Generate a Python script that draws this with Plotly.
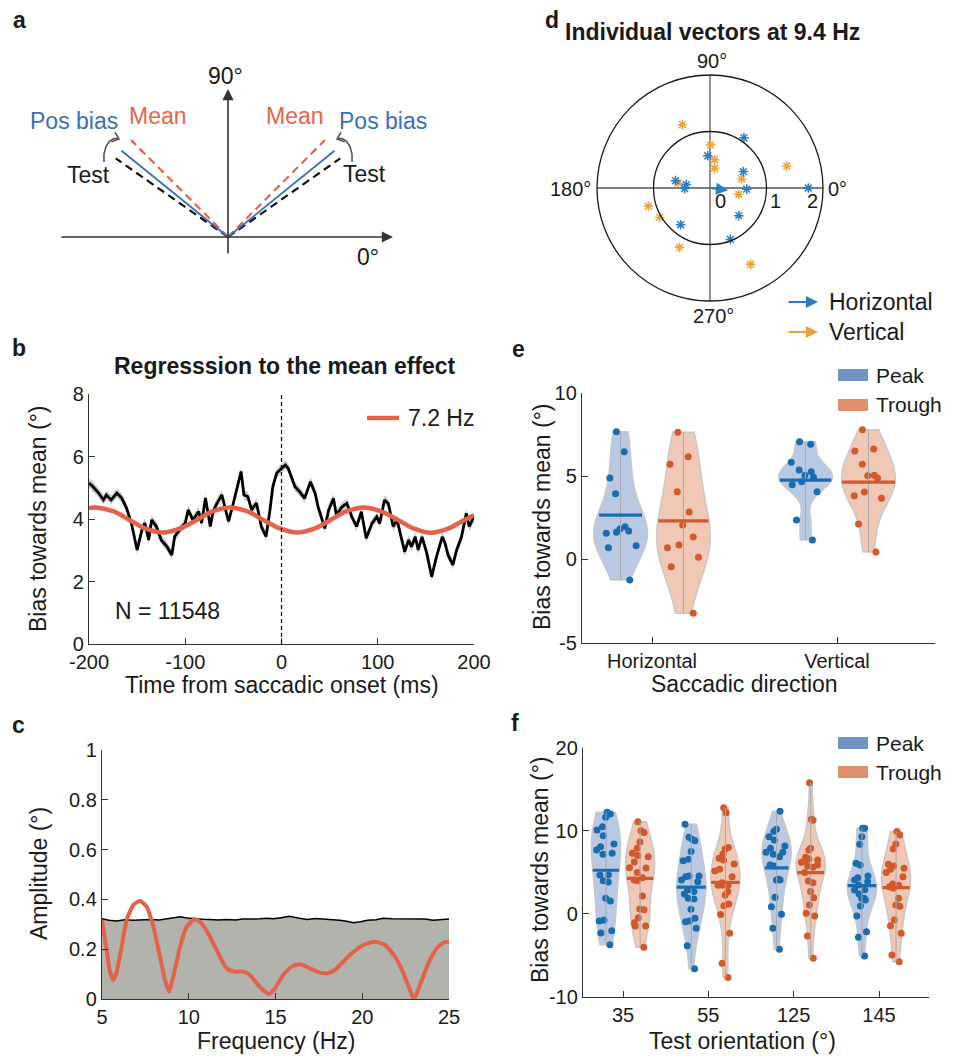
import numpy as np
import plotly.graph_objects as go

# The page body has an 8 px default margin: the figure is sized so that it
# fills the 955 x 1056 window after that offset.
PAGE_W, PAGE_H, BODY = 955, 1056, 8
W, H = PAGE_W - BODY, PAGE_H - BODY
FONT = "Liberation Sans, Arial, sans-serif"
AX = "#333333"
TXT = "#1a1a1a"

# ---------------- data ----------------
# panel a: schematic orientations (deg)
a_test_angles = [35, 145]
a_bias_angles = [39, 141]
a_mean_angles = [45, 135]

# panel b: bias towards mean over time
b_time = [-200, -196, -190, -185, -182, -177, -171, -166, -161, -156, -150, -145, -142, -138,
          -135, -130, -125, -119, -114, -111, -106, -100, -97, -92, -86, -83, -79, -74, -71,
          -67, -62, -59, -55, -50, -46, -42, -39, -35, -31, -26, -21, -16, -12, -9, -5, 0,
          4, 7, 11, 14, 19, 24, 30, 35, 38, 42, 45, 49, 54, 57, 63, 68, 73, 78, 83, 88, 94,
          99, 102, 107, 111, 116, 120, 125, 128, 132, 135, 139, 142, 146, 151, 156, 161, 167,
          170, 173, 178, 182, 187, 192, 195, 200]
b_bias = [5.15, 5.04, 4.83, 4.61, 4.77, 4.61, 4.83, 4.67, 4.35, 3.87, 3.01, 3.65, 3.87, 3.33,
          3.97, 3.76, 3.33, 3.12, 2.85, 3.44, 3.65, 3.87, 4.29, 3.97, 4.24, 3.87, 4.67, 3.76, 4.24,
          4.51, 4.77, 4.40, 3.92, 4.51, 5.04, 5.52, 4.77, 4.72, 4.29, 4.51, 3.76, 3.44, 4.29, 5.04,
          5.47, 5.60, 5.73, 5.62, 5.30, 5.03, 4.87, 4.66, 5.19, 4.82, 4.39, 3.97, 3.70, 4.29, 4.66,
          4.13, 4.39, 4.50, 4.07, 3.76, 4.23, 3.38, 3.86, 4.07, 3.86, 4.61, 4.50, 3.76, 3.97, 3.33,
          2.95, 3.33, 3.11, 3.43, 3.01, 3.43, 2.90, 2.15, 2.79, 3.43, 3.22, 2.85, 2.53, 3.01, 3.43,
          4.18, 3.76, 4.07]
b_sem = 0.15
b_fit_time = [-200, -193, -175, -158, -141, -123, -106, -88, -71, -54, -36, -19, -1, 16, 34,
              51, 68, 86, 103, 121, 138, 155, 173, 190, 200]
b_fit = [4.35, 4.37, 4.25, 3.97, 3.69, 3.57, 3.69, 3.97, 4.25, 4.37, 4.25, 3.97, 3.69, 3.57, 3.69,
         3.97, 4.25, 4.37, 4.25, 3.97, 3.69, 3.56, 3.69, 3.97, 4.12]
b_fit_label = "7.2 Hz"
b_n_label = "N = 11548"
b_xticks = [-200, -100, 0, 100, 200]

# panel c: amplitude spectrum
c_freq = [5.0, 5.27, 5.46, 5.65, 5.85, 6.13, 6.42, 6.81, 7.19, 7.57, 7.96, 8.34, 8.63, 8.86, 9.11,
          9.5, 9.88, 10.36, 10.74, 11.22, 11.7, 12.18, 12.66, 13.14, 13.53, 14.01, 14.39, 14.64,
          14.97, 15.45, 15.93, 16.41, 16.98, 17.56, 18.04, 18.52, 19.29, 20.06, 20.73, 21.31,
          21.89, 22.37, 22.75, 22.98, 23.33, 23.81, 24.29, 24.67, 25.0]
c_amp = [0.317, 0.197, 0.11, 0.076, 0.11, 0.21, 0.317, 0.378, 0.394, 0.371, 0.29, 0.17, 0.076,
         0.03, 0.09, 0.21, 0.29, 0.32, 0.304, 0.25, 0.183, 0.123, 0.11, 0.11, 0.096, 0.056, 0.03,
         0.02, 0.043, 0.096, 0.13, 0.14, 0.123, 0.106, 0.104, 0.123, 0.177, 0.217, 0.23, 0.217,
         0.17, 0.104, 0.036, 0.0, 0.056, 0.143, 0.204, 0.226, 0.23]
c_null_freq = [5.0, 5.4, 5.85, 6.3, 6.8, 7.3, 7.8, 8.3, 8.7, 9.1, 9.5, 9.9, 10.3, 10.8, 11.2, 11.7,
               12.2, 12.7, 13.1, 13.6, 14.1, 14.5, 14.9, 15.4, 15.8, 16.3, 16.8, 17.3, 17.8, 18.2,
               18.7, 19.1, 19.5, 19.9, 20.3, 20.8, 21.2, 21.7, 22.2, 22.6, 23.1, 23.6, 24.1, 24.6, 25.0]
c_null = [0.322, 0.316, 0.313, 0.318, 0.316, 0.319, 0.319, 0.317, 0.322, 0.326, 0.330, 0.325, 0.322,
          0.320, 0.319, 0.317, 0.319, 0.317, 0.321, 0.320, 0.322, 0.324, 0.322, 0.327, 0.332, 0.325,
          0.319, 0.323, 0.321, 0.318, 0.316, 0.312, 0.306, 0.310, 0.316, 0.318, 0.324, 0.322, 0.322,
          0.320, 0.319, 0.321, 0.316, 0.318, 0.321]
c_yticks = [0, 0.2, 0.4, 0.6, 0.8, 1]

# panel d: individual vectors (x, y components)
d_h_x = [0.60, -0.04, 0.59, -0.61, -0.42, -0.45, 0.65, 1.74, 0.51, -0.52, 0.36]
d_h_y = [0.89, 0.57, 0.29, 0.13, 0.06, -0.01, -0.02, 0.00, -0.49, -0.65, -0.91]
d_v_x = [-0.49, 0.01, 0.08, 0.08, 1.36, 0.56, -0.56, 0.51, -1.09, -0.89, -0.54, 0.72]
d_v_y = [1.12, 0.76, 0.50, 0.35, 0.39, 0.16, 0.09, -0.11, -0.32, -0.52, -1.05, -1.35]
d_h_mean = [0.32, -0.04]
d_v_mean = [0.04, -0.015]
d_rings = [1, 2]

# panel e
e_categories = ["Horizontal", "Vertical"]
e_yticks = [-5, 0, 5, 10]
e_peak = [
    [7.66, 6.46, 4.88, 3.94, 1.96, 1.82, 1.70, 1.56, 1.62, 0.82, 0.70, -1.24],
    [7.06, 6.90, 5.82, 5.36, 5.26, 5.04, 4.92, 4.66, 4.48, 4.06, 2.36, 1.16],
]
e_trough = [
    [7.62, 6.16, 5.70, 4.06, 2.84, 2.06, 1.34, 0.86, 0.70, 0.12, -0.44, -3.24],
    [7.78, 6.62, 6.50, 5.70, 5.02, 5.04, 4.88, 4.04, 3.82, 3.66, 2.12, 0.44],
]

# panel f
f_categories = ["35", "55", "125", "145"]
f_yticks = [-10, 0, 10, 20]
f_peak = [
    [12.22, 12.0, 11.61, 10.49, 10.09, 9.40, 8.40, 8.08, 7.68, 7.28, 7.15, 4.66, 4.70, 3.98, 3.82,
     1.85, 1.53, -0.76, -0.88, -2.04, -2.32, -3.73],
    [10.77, 9.20, 8.96, 8.80, 7.48, 6.55, 6.39, 4.54, 4.54, 4.46, 4.06, 3.86, 2.86, 2.66, 2.38,
     1.85, 1.77, 0.53, -0.56, -0.88, -0.96, -1.76, -3.85, -6.62],
    [12.34, 10.17, 9.89, 9.28, 8.88, 8.16, 7.88, 7.40, 7.40, 7.15, 6.87, 5.87, 5.75, 4.14, 4.06,
     4.06, 1.97, 0.85, -0.07, -1.76, -4.29],
    [10.29, 10.29, 9.28, 8.36, 6.07, 5.87, 4.54, 4.34, 4.06, 3.86, 3.46, 2.90, 2.86, 2.38, 1.85,
     1.65, 1.85, 0.93, -0.27, -2.16, -2.84, -5.09],
]
f_trough = [
    [11.09, 10.0, 9.77, 8.64, 7.88, 7.28, 7.0, 6.87, 6.23, 5.55, 5.51, 4.95, 4.34, 3.98, 4.06,
     2.13, 0.49, 0.57, -0.48, -1.08, -1.48, -1.48, -4.05],
    [12.78, 12.17, 7.99, 7.80, 7.20, 6.67, 6.47, 5.99, 5.35, 5.15, 4.46, 3.74, 3.42, 3.42, 3.42,
     2.66, 2.26, 1.17, 0.97, -0.11, -2.36, -5.98, -7.70],
    [15.79, 11.37, 11.25, 7.88, 7.68, 6.80, 6.59, 6.47, 6.39, 6.20, 5.87, 5.75, 5.59, 4.95, 3.94,
     3.74, 2.66, 1.93, 1.05, 0.05, -0.27, -2.68, -5.38],
    [9.89, 9.48, 8.40, 7.80, 5.95, 5.75, 5.35, 5.47, 4.95, 4.46, 3.42, 3.58, 3.26, 3.06, 1.85,
     1.05, 0.90, -0.76, -1.44, -2.36, -4.97, -5.78],
]

# ---------------- styles ----------------
BLUE_PT = "#1a6cb1"
ORANGE_PT = "#d2592a"
BLUE_FILL = "rgba(115,147,199,0.5)"
ORANGE_FILL = "rgba(226,146,108,0.5)"
BLUE_LEG = "#7393c7"
ORANGE_LEG = "#e0906b"
RED = "#e2624a"
D_BLUE = "#2a7fc1"
D_ORANGE = "#eba33c"


def px_x(p):
    return (p - BODY) / W


def px_y(p):
    return 1 - (p - BODY) / H


def tick_text(vals):
    return [("%g" % v) for v in vals]


fig = go.Figure()
ann = []
shapes = []


def text(x, y, s, size=21, color=TXT, bold=False, xanchor="center", angle=0):
    ann.append(dict(x=px_x(x), y=px_y(y), xref="paper", yref="paper", text=f"<b>{s}</b>" if bold else s,
                    showarrow=False, xanchor=xanchor, yanchor="middle", textangle=angle,
                    font=dict(size=size, color=color, family=FONT)))


# ---------------- panel a ----------------
ARM = 137
for angs, col, dash, wd in [(a_test_angles, "#111111", "8px,5px", 2.2),
                            (a_mean_angles, "#e8644a", "8px,5px", 2.2),
                            (a_bias_angles, "#3a6fb9", "solid", 1.8)]:
    for ang in angs:
        r = np.deg2rad(ang)
        fig.add_trace(go.Scatter(x=[0, ARM * np.cos(r)], y=[0, ARM * np.sin(r)], mode="lines",
                                 line=dict(color=col, dash=dash, width=wd), xaxis="x", yaxis="y",
                                 showlegend=False, hoverinfo="skip"))
# hook arrows test -> pos bias (arc plus open chevron head)
for ang in a_test_angles:
    s = 1 if np.cos(np.deg2rad(ang)) > 0 else -1
    tx, ty = ARM * np.cos(np.deg2rad(ang)), ARM * np.sin(np.deg2rad(ang))
    t = np.deg2rad(np.linspace(-10, 105, 30))
    hx = tx + s * 12 * np.cos(t)
    hy = ty + 20 * np.sin(t)
    d = np.array([hx[-1] - hx[-2], hy[-1] - hy[-2]])
    d = d / np.hypot(*d)
    heads = []
    for sgn in (1, -1):
        a = np.deg2rad(180 + sgn * 40)
        rot = np.array([d[0] * np.cos(a) - d[1] * np.sin(a), d[0] * np.sin(a) + d[1] * np.cos(a)])
        heads.append((hx[-1] + 8 * rot[0], hy[-1] + 8 * rot[1]))
    cx = list(hx) + [None, heads[0][0], hx[-1], heads[1][0]]
    cy = list(hy) + [None, heads[0][1], hy[-1], heads[1][1]]
    fig.add_trace(go.Scatter(x=cx, y=cy, mode="lines", line=dict(color="#555555", width=1.6),
                             xaxis="x", yaxis="y", showlegend=False, hoverinfo="skip"))
# axis arrows
ann.append(dict(x=165, y=0, ax=-168, ay=0, xref="x", yref="y", axref="x", ayref="y", text="",
                showarrow=True, arrowhead=2, arrowsize=1.4, arrowwidth=1.6, arrowcolor=AX))
ann.append(dict(x=0, y=148, ax=0, ay=-18, xref="x", yref="y", axref="x", ayref="y", text="",
                showarrow=True, arrowhead=2, arrowsize=1.4, arrowwidth=1.6, arrowcolor=AX))
text(225, 76, "90°", 23)
text(368, 257, "0°", 23)
text(74, 121, "Pos bias", 23, "#3a6fb9")
text(383, 121, "Pos bias", 23, "#3a6fb9")
text(158, 116, "Mean", 23, "#e8644a")
text(295, 116, "Mean", 23, "#e8644a")
text(88, 175, "Test", 23)
text(364, 174, "Test", 23)

# ---------------- panel b ----------------
b_t = np.array(b_time, float)
b_v = np.array(b_bias, float)
fig.add_trace(go.Scatter(x=np.concatenate([b_t, b_t[::-1]]),
                         y=np.concatenate([b_v + b_sem, (b_v - b_sem)[::-1]]),
                         fill="toself", fillcolor="#cccccc", line=dict(width=0), mode="lines",
                         xaxis="x2", yaxis="y2", showlegend=False, hoverinfo="skip"))
fig.add_trace(go.Scatter(x=b_t, y=b_v, mode="lines", line=dict(color="black", width=2.8),
                         xaxis="x2", yaxis="y2", showlegend=False, hoverinfo="skip"))
fig.add_trace(go.Scatter(x=b_fit_time, y=b_fit, mode="lines",
                         line=dict(color=RED, width=4.5, shape="spline", smoothing=1.0),
                         xaxis="x2", yaxis="y2", showlegend=False, hoverinfo="skip"))
shapes.append(dict(type="line", xref="x2", yref="y2", x0=0, x1=0, y0=0, y1=8,
                   line=dict(color="black", width=1.2, dash="4px,3px")))
shapes.append(dict(type="line", xref="paper", yref="paper", x0=px_x(367), x1=px_x(399),
                   y0=px_y(418), y1=px_y(418), line=dict(color=RED, width=4.5)))
text(406, 418, b_fit_label, 23, xanchor="left")
text(113, 611, b_n_label, 23, xanchor="left")
text(285, 366, "Regresssion to the mean effect", 23, bold=True)
text(38, 519, "Bias towards mean (°)", 23, angle=-90)
text(282, 685, "Time from saccadic onset (ms)", 23)

# ---------------- panel c ----------------
fig.add_trace(go.Scatter(x=c_null_freq, y=c_null, mode="lines", fill="tozeroy",
                         fillcolor="#b3b3ae", line=dict(color="black", width=1.5),
                         xaxis="x3", yaxis="y3", showlegend=False, hoverinfo="skip"))
fig.add_trace(go.Scatter(x=c_freq, y=c_amp, mode="lines",
                         line=dict(color=RED, width=4, shape="spline", smoothing=0.6),
                         xaxis="x3", yaxis="y3", showlegend=False, hoverinfo="skip"))
text(39, 874, "Amplitude (°)", 23, angle=-90)
text(276, 1041, "Frequency (Hz)", 23)

# ---------------- panel d ----------------
for r in d_rings:
    shapes.append(dict(type="circle", xref="x4", yref="y4", x0=-r, x1=r, y0=-r, y1=r,
                       line=dict(color="#1a1a1a", width=1.3)))
R = max(d_rings)
shapes.append(dict(type="line", xref="x4", yref="y4", x0=-R, x1=R, y0=0, y1=0,
                   line=dict(color="#555555", width=1.3), layer="below"))
shapes.append(dict(type="line", xref="x4", yref="y4", x0=0, x1=0, y0=-R, y1=R,
                   line=dict(color="#555555", width=1.3), layer="below"))
for xs, ys, col in [(d_v_x, d_v_y, D_ORANGE), (d_h_x, d_h_y, D_BLUE)]:
    fig.add_trace(go.Scatter(x=xs, y=ys, mode="markers",
                             marker=dict(symbol="asterisk-open", size=8, color=col,
                                         line=dict(color=col, width=1.5)),
                             xaxis="x4", yaxis="y4", showlegend=False, hoverinfo="skip"))
for vec, col in [(d_h_mean, D_BLUE), (d_v_mean, D_ORANGE)]:
    ann.append(dict(x=vec[0], y=vec[1], ax=0, ay=0, xref="x4", yref="y4", axref="x4", ayref="y4",
                    text="", showarrow=True, arrowhead=2, arrowsize=1.1, arrowwidth=2.2, arrowcolor=col))
text(712, 32, "Individual vectors at 9.4 Hz", 23, bold=True)
text(712, 61, "90°", 20)
text(593, 189, "180°", 20, xanchor="right")
text(826, 189, "0°", 20, xanchor="left")
text(713, 316, "270°", 20)
for rv, xp in zip([0] + d_rings, [720, 775, 812]):
    text(xp, 201, str(rv), 20)
for yy, col, lab in [(302, D_BLUE, "Horizontal"), (332, D_ORANGE, "Vertical")]:
    ann.append(dict(x=px_x(818), y=px_y(yy), ax=-31, ay=0, xref="paper", yref="paper",
                    text="", showarrow=True, arrowhead=2, arrowsize=1.1, arrowwidth=2.2, arrowcolor=col))
    text(827, yy, lab, 23, xanchor="left")


# ---------------- violins ----------------
def kde_halfwidth(vals, width):
    """Half-width of a plotly-style (Silverman, gaussian, hard span) violin at its mean."""
    v = np.asarray(vals, float)
    n = len(v)
    sd = v.std(ddof=1)
    q1, q3 = np.percentile(v, [25, 75])
    a = min(sd, (q3 - q1) / 1.349) or sd
    bw = 1.059 * a * n ** (-0.2)
    grid = np.linspace(v.min(), v.max(), 200)
    dens = lambda y: np.exp(-0.5 * ((y - v) / bw) ** 2).sum()
    dmax = max(dens(g) for g in grid)
    return width / 2 * dens(v.mean()) / dmax


def add_violin(vals, pos, xa, ya, fill, pt, width):
    fig.add_trace(go.Scatter(x=[pos, pos], y=[min(vals), max(vals)], mode="lines",
                             line=dict(color="#a9a9a9", width=1), xaxis=xa, yaxis=ya,
                             showlegend=False, hoverinfo="skip"))
    fig.add_trace(go.Violin(x=[pos] * len(vals), y=vals, xaxis=xa, yaxis=ya, width=width,
                            spanmode="hard", fillcolor=fill, line=dict(color="#c8c8c8", width=1.5),
                            points="all", pointpos=0, jitter=0.75,
                            marker=dict(color=pt, size=7, line=dict(width=0)),
                            meanline=dict(visible=False),
                            showlegend=False, hoverinfo="skip", scalemode="width"))
    hw = kde_halfwidth(vals, width)
    m = float(np.mean(vals))
    fig.add_trace(go.Scatter(x=[pos - hw, pos + hw], y=[m, m], mode="lines",
                             line=dict(color=pt, width=3.2), xaxis=xa, yaxis=ya,
                             showlegend=False, hoverinfo="skip"))


for i, cat in enumerate(e_categories):
    add_violin(e_peak[i], i + 1 - 0.17, "x5", "y5", BLUE_FILL, BLUE_PT, 0.29)
    add_violin(e_trough[i], i + 1 + 0.17, "x5", "y5", ORANGE_FILL, ORANGE_PT, 0.29)
for i, cat in enumerate(f_categories):
    add_violin(f_peak[i], i + 1 - 0.2, "x6", "y6", BLUE_FILL, BLUE_PT, 0.34)
    add_violin(f_trough[i], i + 1 + 0.2, "x6", "y6", ORANGE_FILL, ORANGE_PT, 0.34)

for (yp, yt) in [((369, 381), (399, 411)), ((737, 749), (766, 778))]:
    shapes.append(dict(type="rect", xref="paper", yref="paper", x0=px_x(838), x1=px_x(868),
                       y0=px_y(yp[1]), y1=px_y(yp[0]), fillcolor=BLUE_LEG, line=dict(width=0)))
    shapes.append(dict(type="rect", xref="paper", yref="paper", x0=px_x(838), x1=px_x(868),
                       y0=px_y(yt[1]), y1=px_y(yt[0]), fillcolor=ORANGE_LEG, line=dict(width=0)))
    text(874, (yp[0] + yp[1]) / 2, "Peak", 21, xanchor="left")
    text(874, (yt[0] + yt[1]) / 2, "Trough", 21, xanchor="left")

text(542, 517, "Bias towards mean (°)", 23, angle=-90)
text(744, 684, "Saccadic direction", 23)
text(540, 870, "Bias towards mean (°)", 23, angle=-90)
text(742, 1041, "Test orientation (°)", 23)

# panel letters
for lab, x, y in [("a", 19, 20), ("b", 19, 348), ("c", 18, 725), ("d", 552, 20), ("e", 518, 349), ("f", 515, 723)]:
    text(x, y, lab, 23, bold=True)


# ---------------- layout ----------------
def dom_x(a, b):
    return [px_x(a), px_x(b)]


def dom_y(top, bottom):
    return [px_y(bottom), px_y(top)]


tickfont = dict(size=20, color=TXT, family=FONT)
base = dict(showline=True, linecolor=AX, linewidth=1.4, ticks="inside", ticklen=6, tickwidth=1.4,
            tickcolor=AX, tickfont=tickfont, showgrid=False, zeroline=False, mirror=False,
            automargin=False)
hidden = dict(visible=False, showgrid=False, zeroline=False, automargin=False)

fig.update_layout(
    width=W, height=H, margin=dict(l=0, r=0, t=0, b=0, autoexpand=False),
    paper_bgcolor="white", plot_bgcolor="rgba(0,0,0,0)",
    font=dict(family=FONT, color=TXT), violinmode="overlay", showlegend=False,
    xaxis=dict(hidden, domain=dom_x(8, 450), range=[-220, 222], fixedrange=True),
    yaxis=dict(hidden, domain=dom_y(8, 300), range=[-63, 229], fixedrange=True),
    xaxis2=dict(base, domain=dom_x(89, 474), range=[-200, 200], tickvals=b_xticks,
                ticktext=tick_text(b_xticks), anchor="y2"),
    yaxis2=dict(base, domain=dom_y(394, 644), range=[0, 8], tickvals=[0, 2, 4, 6, 8], anchor="x2"),
    xaxis3=dict(base, domain=dom_x(102, 449), range=[5, 25], tickvals=[5, 10, 15, 20, 25], anchor="y3"),
    yaxis3=dict(base, domain=dom_y(750, 999), range=[0, 1], tickvals=c_yticks,
                ticktext=tick_text(c_yticks), anchor="x3"),
    xaxis4=dict(hidden, domain=dom_x(591.35, 828.65), range=[-2.1, 2.1], anchor="y4"),
    yaxis4=dict(hidden, domain=dom_y(69.35, 306.65), range=[-2.1, 2.1], anchor="x4"),
    xaxis5=dict(base, domain=dom_x(582, 935), range=[0.6216, 2.5297], tickvals=[1, 2],
                ticktext=e_categories, anchor="y5"),
    yaxis5=dict(base, domain=dom_y(392.7, 642.7), range=[-5, 10], tickvals=e_yticks,
                ticktext=tick_text(e_yticks), anchor="x5"),
    xaxis6=dict(base, domain=dom_x(583, 929), range=[0.531, 4.586], tickvals=[1, 2, 3, 4],
                ticktext=f_categories, anchor="y6"),
    yaxis6=dict(base, domain=dom_y(747.7, 996.7), range=[-10, 20], tickvals=f_yticks,
                ticktext=tick_text(f_yticks), anchor="x6"),
    annotations=ann, shapes=shapes,
)
fig.write_html("out.html")
